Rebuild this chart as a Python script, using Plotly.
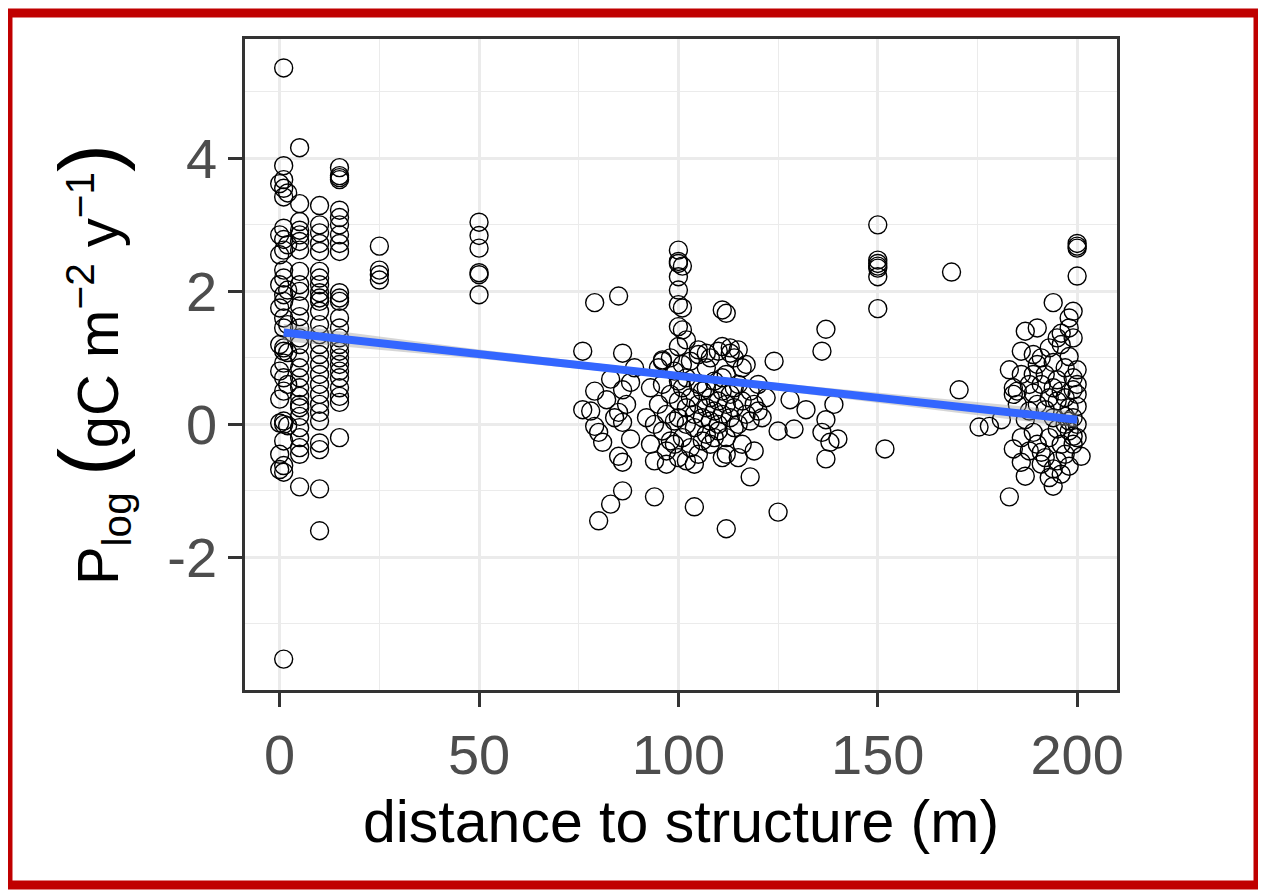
import plotly.graph_objects as go

# points sitting right next to the structure (x ~ 0-2 m)
col0_x = [1, 1, 1, 0, 1, 2, 1, 1, 0, 1,
          2, 1, 0, 1, 1, 0, 2, 1, 1, 0,
          1, 2, 1, 0, 1, 1, 2, 1, 0, 1,
          2, 1, 0, 1, 0, 1, 2, 1, 0, 1,
          0, 1, 1]
col0_y = [5.36, 3.89, 3.68, 3.62, 3.55, 3.48, 3.42, 2.95, 2.85, 2.78,
          2.7, 2.62, 2.55, 2.32, 2.2, 2.1, 2.02, 1.95, 1.85, 1.75,
          1.6, 1.5, 1.45, 1.2, 1.15, 1.1, 1.08, 0.92, 0.8, 0.7,
          0.6, 0.5, 0.38, 0.05, 0.02, 0.0, -0.02, -0.25, -0.45, -0.62,
          -0.68, -0.72, -3.53]

col5_y = [4.16, 3.32, 3.05, 2.92, 2.85, 2.75, 2.62, 2.3, 2.1, 2.0, 1.78, 1.62, 1.45, 1.3,
          1.2, 1.0, 0.85, 0.7, 0.55, 0.42, 0.3, 0.25, 0.12, -0.05, -0.2, -0.35, -0.45, -0.94]
col10_y = [3.29, 3.0, 2.88, 2.72, 2.6, 2.3, 2.2, 2.1, 1.98, 1.9, 1.85, 1.7, 1.5, 1.35,
           1.2, 1.05, 0.9, 0.75, 0.6, 0.45, 0.3, 0.18, 0.05, -0.28, -0.38, -0.97, -1.6]
col15_y = [3.86, 3.74, 3.71, 3.68, 3.22, 3.11, 3.0, 2.85, 2.72, 2.6, 1.98, 1.9, 1.85,
           1.6, 1.45, 1.3, 1.2, 1.1, 1.0, 0.9, 0.8, 0.7, 0.55, 0.42, 0.33, -0.2]
col25_y = [2.68, 2.32, 2.25, 2.17]
col50_y = [3.04, 2.84, 2.65, 2.28, 2.25, 1.95]
col150_y = [3.0, 2.47, 2.42, 2.38, 2.35, 2.22, 1.74]

# (distance, P_log) pairs for the scattered groups
cluster_100 = [
    (100, 2.62), (100, 2.45), (100, 2.42), (101, 2.38), (100, 2.22), (100, 2.02), (100, 1.8),
    (101, 1.75), (100, 1.47), (101, 1.42), (100, 1.17),
    (79, 1.83), (85, 1.93), (111, 1.72), (112, 1.67), (76, 1.1), (86, 1.07), (124, 0.95),
    (137, 1.43), (136, 1.1),
    (79, 0.5), (82, 0.37), (78, 0.2), (85, 0.18), (88, 0.63), (86, 0.52), (80, -0.12),
    (81, -0.27), (88, -0.22), (85, -0.48), (86, -0.57), (84, 0.1), (86, 0.03), (76, 0.22),
    (79, -0.03), (89, 0.85), (87, 0.3), (83, 0.68),
    (86, -1.0), (83, -1.2), (80, -1.45), (94, -1.09), (104, -1.24), (112, -1.57), (118, -0.79),
    (125, -1.32),
    (128, 0.37), (132, 0.22), (125, -0.1), (129, -0.07), (137, 0.07), (136, -0.12), (138, -0.27),
    (137, -0.52), (140, -0.22), (139, 0.3),
    (102, 1.27), (105, 1.12), (111, 1.17), (113, 1.07), (115, 1.12), (96, 0.97), (107, 1.07),
    (95, 0.3), (96, -0.1), (96, 0.6), (97, -0.4), (97, 0.15), (98, 0.45), (98, -0.25), (99, 0.05),
    (99, 0.8), (100, 0.35), (100, -0.5), (100, 0.1), (101, 0.55), (101, -0.2), (102, 0.25),
    (102, 0.0), (102, 0.7), (103, -0.35), (103, 0.4), (104, 0.15), (104, -0.05), (105, 0.6),
    (105, 0.3), (105, -0.45), (106, 0.1), (106, 0.5), (107, -0.15), (107, 0.25), (107, 0.85),
    (108, 0.05), (108, 0.4), (108, -0.3), (109, 0.2), (109, 0.65), (110, -0.1), (110, 0.35),
    (110, 0.0), (111, 0.5), (111, -0.5), (111, 0.15), (112, 0.3), (112, -0.2), (112, 0.75),
    (113, 0.1), (113, 0.45), (114, -0.05), (114, 0.25), (114, 1.0), (115, 0.6), (115, 0.0),
    (116, 0.35), (116, -0.3), (117, 0.15), (117, 0.9), (118, 0.05), (118, 0.5), (119, -0.4),
    (120, 0.2), (92, 0.1), (93, -0.3), (93, 0.55), (94, 0.0), (94, -0.55), (95, 0.85),
    (97, -0.6), (99, -0.3), (101, 0.9), (103, 0.95), (104, -0.6), (106, -0.25), (109, -0.2),
    (112, -0.45), (113, 1.15), (110, 1.1), (115, -0.5), (116, 0.85), (119, 0.3), (120, 0.6),
    (121, 0.1), (122, 0.4), (108, 1.0), (105, 1.05), (100, 0.65), (98, 1.0), (96, 0.95),
    (102, -0.55), (107, 0.55), (111, 0.7), (114, 0.55),
]

far_pts = [(168.5, 2.29), (170.4, 0.52), (151.8, -0.37), (175.4, -0.04)]

cluster_200 = [
    (200, 2.72), (200, 2.68), (200, 2.65), (200, 2.23), (194, 1.83), (199, 1.7), (198, 1.6),
    (198, 1.45), (196, 1.37), (187, 1.4), (190, 1.45), (195, 1.3), (186, 1.1), (189, 1.05),
    (183, 0.82), (184, 0.55), (185, 0.5), (184, 0.45), (189, 0.47), (194, 0.93), (198, 1.02),
    (200, 0.82), (195, 0.67), (199, 0.52), (200, 0.27), (181, 0.07), (178, -0.03), (189, -0.12),
    (195, -0.07), (199, -0.18), (184, -0.37), (186, -0.57), (187, -0.78), (191, -0.42),
    (194, -0.67), (198, -0.63), (201, -0.48), (194, -0.93), (183, -1.09), (199, -0.3),
    (192, 0.22), (197, 0.12), (187, 0.07), (199, 0.1),
    (190, 0.3), (191, 0.6), (192, 0.75), (193, 0.4), (193, -0.2), (194, 0.1), (195, 0.35),
    (196, -0.3), (196, 0.5), (197, 0.85), (197, -0.45), (198, 0.25), (198, -0.1), (199, 0.7),
    (200, 0.0), (200, -0.2), (200, 0.45), (190, -0.3), (191, -0.6), (192, -0.5), (193, -0.8),
    (195, -0.55), (196, -0.75), (197, 0.0), (188, 0.2), (188, -0.4), (189, 0.75), (191, 1.0),
    (193, 1.15), (196, 1.2), (199, 1.3), (185, 0.3), (186, 0.75), (186, -0.2), (188, 0.6),
    (190, 0.9), (194, 0.55), (197, 0.4), (200, 0.6), (198, 0.05),
]

# linear fit and its confidence band
fit_x = [1, 200]
fit_y = [1.38, 0.07]
band_x = [1, 50, 90, 130, 200]
band_half = [0.13, 0.07, 0.05, 0.06, 0.12]

x_ticks = [0, 50, 100, 150, 200]
y_ticks = [-2, 0, 2, 4]


def build_points():
    xs = list(col0_x)
    ys = list(col0_y)
    for xv, col in [(5, col5_y), (10, col10_y), (15, col15_y), (25, col25_y),
                    (50, col50_y), (150, col150_y)]:
        xs += [xv] * len(col)
        ys += col
    for grp in [cluster_100, far_pts, cluster_200]:
        xs += [p[0] for p in grp]
        ys += [p[1] for p in grp]
    return xs, ys


xs, ys = build_points()

slope = (fit_y[1] - fit_y[0]) / (fit_x[1] - fit_x[0])
band_mid = [fit_y[0] + slope * (b - fit_x[0]) for b in band_x]
band_lo = [m - h for m, h in zip(band_mid, band_half)]
band_hi = [m + h for m, h in zip(band_mid, band_half)]

fig = go.Figure()
fig.add_trace(go.Scatter(
    x=xs, y=ys, mode='markers',
    marker=dict(symbol='circle-open', size=18, color='black', line=dict(width=1.4)),
    hoverinfo='skip'))
fig.add_trace(go.Scatter(
    x=band_x + band_x[::-1], y=band_hi + band_lo[::-1],
    fill='toself', fillcolor='rgba(153,153,153,0.4)', line=dict(width=0),
    mode='lines', hoverinfo='skip'))
fig.add_trace(go.Scatter(
    x=fit_x, y=fit_y, mode='lines', line=dict(color='#3366FF', width=8)))

big = '<span style="font-size:84px">'
fig.update_layout(
    width=1266, height=893,
    margin=dict(l=237, r=157, t=31, b=211),
    paper_bgcolor='white', plot_bgcolor='white',
    showlegend=False,
    font=dict(family='Liberation Sans, Arial, sans-serif'),
    xaxis=dict(
        range=[-8.7, 210], tickvals=x_ticks, ticks='outside', ticklen=14, tickwidth=2.5,
        tickcolor='#333333', tickfont=dict(size=56, color='#4D4D4D'),
        showgrid=True, gridcolor='#EBEBEB', gridwidth=2.5, zeroline=False,
        minor=dict(dtick=25, tick0=0, showgrid=True, gridcolor='#EBEBEB', gridwidth=1.3, ticks=''),
        showline=True, mirror=True, linecolor='#333333', linewidth=2.5,
        title=dict(text='distance to structure (m)', font=dict(size=59, color='black'), standoff=16),
    ),
    yaxis=dict(
        range=[-3.995, 5.795], tickvals=y_ticks, ticktext=['-2', '0', '2', '4'],
        ticks='outside', ticklen=14, tickwidth=2.5,
        tickcolor='#333333', tickfont=dict(size=56, color='#4D4D4D'),
        showgrid=True, gridcolor='#EBEBEB', gridwidth=2.5, zeroline=False,
        minor=dict(dtick=1, tick0=1, showgrid=True, gridcolor='#EBEBEB', gridwidth=1.3, ticks=''),
        showline=True, mirror=True, linecolor='#333333', linewidth=2.5,
        title=dict(text='P<sub>log</sub> ' + big + '(</span>gC m<sup>−2</sup> '
                        'y<sup>−1</sup>' + big + ')</span>',
                   font=dict(size=58, color='black'), standoff=30),
    ),
)

# red frame around the screenshot
fig.add_shape(type='rect', xref='paper', yref='paper',
              x0=-0.2718, x1=1.1617, y0=-0.2995, y1=1.04,
              line=dict(color='#C00000', width=9))

fig.write_html("out.html")
